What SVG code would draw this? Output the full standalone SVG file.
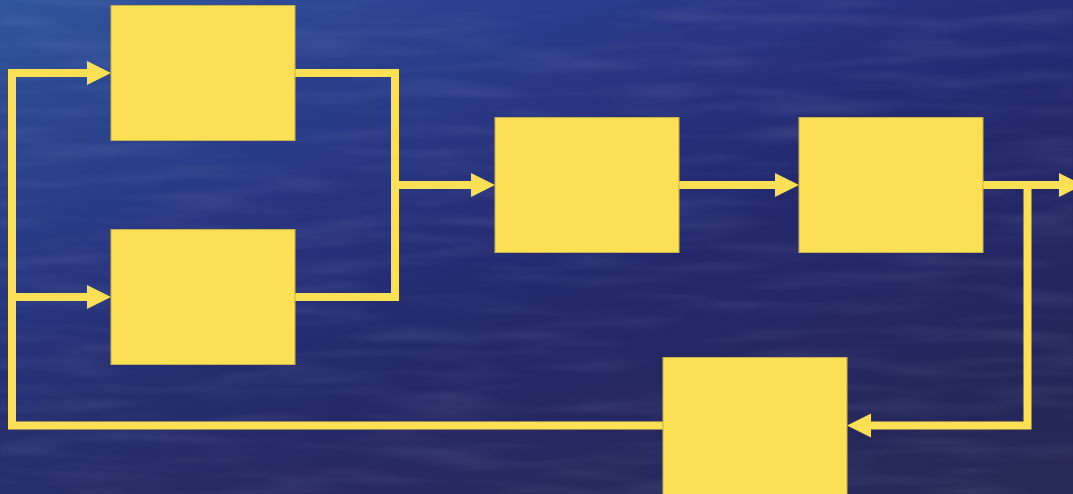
<svg xmlns="http://www.w3.org/2000/svg" width="1073" height="494" viewBox="0 0 1073 494">
<style>
.box{fill:#FBDF55;stroke:#C9B048;stroke-width:1}
.wire{fill:none;stroke:#FBDF55;stroke-width:8;stroke-linejoin:miter;stroke-linecap:butt}
</style>
<defs>
<linearGradient id="bg" x1="0" y1="0" x2="1" y2="0.9">
<stop offset="0" stop-color="#30559c"/>
<stop offset="0.3" stop-color="#2a3c8c"/>
<stop offset="0.6" stop-color="#252a72"/>
<stop offset="1" stop-color="#252759"/>
</linearGradient>
<linearGradient id="bg2" x1="0" y1="0" x2="0" y2="1">
<stop offset="0" stop-color="#1d1f4a" stop-opacity="0"/>
<stop offset="0.6" stop-color="#1d1f4a" stop-opacity="0.2"/>
<stop offset="1" stop-color="#2a2c55" stop-opacity="0.45"/>
</linearGradient>
<filter id="water" x="0" y="0" width="100%" height="100%">
<feTurbulence type="fractalNoise" baseFrequency="0.008 0.07" numOctaves="2" seed="7" result="n"/>
<feColorMatrix in="n" type="matrix" values="0 0 0 0 0.55  0 0 0 0 0.6  0 0 0 0 0.85  0 0 0 1.4 -0.6" result="c"/>
<feGaussianBlur in="c" stdDeviation="1.2 0.8" result="b"/>
<feComposite in="b" in2="SourceGraphic" operator="in"/>
</filter>
<marker id="ah" markerUnits="userSpaceOnUse" markerWidth="24" markerHeight="24" refX="0" refY="12" orient="auto" overflow="visible">
<path d="M0,0 L24,12 L0,24 Z" fill="#FBDF55"/>
</marker>
</defs>
<g id="background">
<rect width="1073" height="494" fill="url(#bg)"/>
<rect width="1073" height="494" fill="url(#bg2)"/>
<rect width="1073" height="494" fill="#fff" filter="url(#water)" opacity="0.16"/>
</g>
<g id="connectors">
<path class="wire" d="M295,73 H395 V297 H295"/>
<path class="wire" d="M395,185 H471" marker-end="url(#ah)"/>
<path class="wire" d="M679,185 H775" marker-end="url(#ah)"/>
<path class="wire" d="M983,185 H1059" marker-end="url(#ah)"/>
<path class="wire" d="M1027.5,185 V425.5 H871" marker-end="url(#ah)"/>
<path class="wire" d="M663,425.5 H12 V73 H87" marker-end="url(#ah)"/>
<path class="wire" d="M12,297 H87" marker-end="url(#ah)"/>
</g>
<g id="node1"><rect class="box" x="111" y="5.5" width="184" height="135"/></g>
<g id="node2"><rect class="box" x="111" y="229.5" width="184" height="135"/></g>
<g id="node3"><rect class="box" x="495" y="117.5" width="184" height="135"/></g>
<g id="node4"><rect class="box" x="799" y="117.5" width="184" height="135"/></g>
<g id="node5"><rect class="box" x="663" y="357.5" width="184" height="140"/></g>
</svg>
